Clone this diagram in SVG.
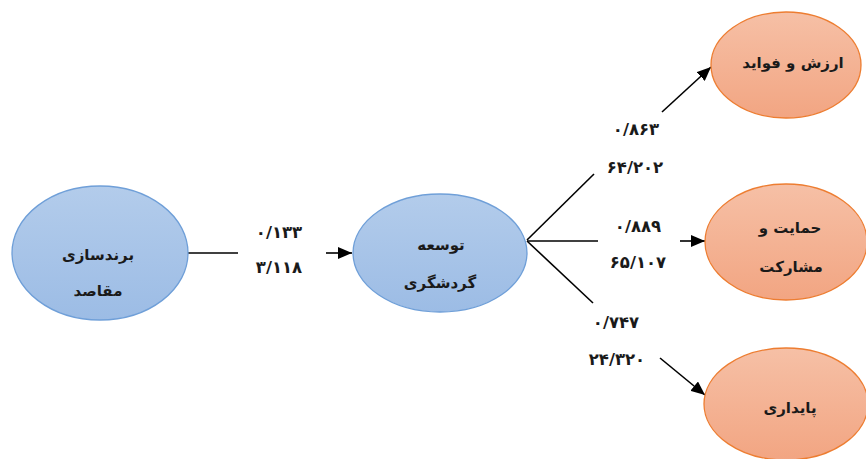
<svg xmlns="http://www.w3.org/2000/svg" width="866" height="459" viewBox="0 0 866 459">
<defs>
<linearGradient id="gb" x1="0" y1="0" x2="0" y2="1"><stop offset="0" stop-color="#b3cceb"/><stop offset="1" stop-color="#9cbce5"/></linearGradient>
<linearGradient id="go" x1="0" y1="0" x2="0" y2="1"><stop offset="0" stop-color="#f6c0a6"/><stop offset="1" stop-color="#f2a582"/></linearGradient>
<marker id="ah" markerWidth="14" markerHeight="12" refX="14" refY="6" orient="auto" markerUnits="userSpaceOnUse"><path d="M0,0 L14,6 L0,12 z" fill="#000"/></marker>
<style>
.b{fill:url(#gb);stroke:#6f9fd8;stroke-width:1.3}
.o{fill:url(#go);stroke:#ed7d31;stroke-width:1.3}
.t{font-family:"DejaVu Sans",sans-serif;font-size:15px;font-weight:bold;fill:#1a1a1a;text-anchor:middle}
.n{font-family:"DejaVu Sans",sans-serif;font-size:16.5px;font-weight:bold;fill:#1a1a1a;text-anchor:middle}
.c{stroke:#000;stroke-width:1.6;fill:none}
</style>
</defs>
<g id="connectors">
<path class="c" d="M188,253 H238"/>
<path class="c" d="M326,253 H352" marker-end="url(#ah)"/>
<path class="c" d="M527,240 L594,174"/>
<path class="c" d="M662,112 L711,67" marker-end="url(#ah)"/>
<path class="c" d="M527,241 H598"/>
<path class="c" d="M680,241 H705" marker-end="url(#ah)"/>
<path class="c" d="M527,241 L593,303"/>
<path class="c" d="M660,358 L705,395" marker-end="url(#ah)"/>
</g>
<g id="labels">
<text class="n" x="279" y="238">۰/۱۳۳</text>
<text class="n" x="279" y="273">۳/۱۱۸</text>
<text class="n" x="636" y="135">۰/۸۶۳</text>
<text class="n" x="635" y="173">۶۴/۲۰۲</text>
<text class="n" x="638" y="232">۰/۸۸۹</text>
<text class="n" x="638" y="268">۶۵/۱۰۷</text>
<text class="n" x="616" y="328">۰/۷۴۷</text>
<text class="n" x="617" y="365">۲۴/۳۲۰</text>
</g>
<g id="node-branding">
<ellipse class="b" cx="100" cy="253" rx="88" ry="67"/>
<text class="t" x="98" y="260">برندسازی</text>
<text class="t" x="98" y="296">مقاصد</text>
</g>
<g id="node-tourism">
<ellipse class="b" cx="440" cy="253" rx="87" ry="59"/>
<text class="t" x="441" y="250">توسعه</text>
<text class="t" x="440" y="288">گردشگری</text>
</g>
<g id="node-value">
<ellipse class="o" cx="786" cy="65" rx="75" ry="53"/>
<text class="t" x="793" y="68">ارزش و فواید</text>
</g>
<g id="node-support">
<ellipse class="o" cx="786" cy="242" rx="81" ry="58"/>
<text class="t" x="790" y="233">حمایت و</text>
<text class="t" x="791" y="272">مشارکت</text>
</g>
<g id="node-sustain">
<ellipse class="o" cx="786" cy="404" rx="82" ry="56"/>
<text class="t" x="790" y="413">پایداری</text>
</g>
</svg>
